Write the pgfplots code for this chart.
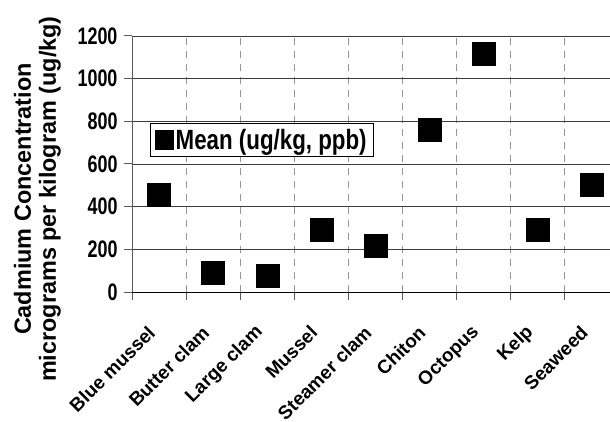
\documentclass[border=0pt]{standalone}
\usepackage{fontspec}
\setmainfont{Liberation Sans}
\usepackage{graphicx}
\usepackage{pgfplots}
\pgfplotsset{compat=1.18}
\definecolor{gridh}{RGB}{60,60,60}
\definecolor{gridv}{RGB}{150,150,150}
\definecolor{axgray}{RGB}{90,90,90}
\begin{document}
\begin{tikzpicture}
\useasboundingbox (0,0) rectangle (610bp,422bp);
\begin{axis}[
  at={(132bp,130bp)}, anchor=south west,
  scale only axis, width=478bp, height=256bp,
  xmin=-0.5, xmax=8.335, ymin=0, ymax=1200,
  axis x line=bottom, axis y line=left,
  x axis line style={-, black, line width=1bp},
  y axis line style={-, axgray, line width=1bp},
  xtick={-0.5,0.5,...,8.5}, xticklabels={},
  ytick={0,200,...,1200},
  minor ytick={200,400,...,1200},
  minor tick length=0pt,
  yminorgrids, xmajorgrids, ymajorgrids=false,
  minor grid style={solid, gridh, line width=0.9bp},
  major grid style={dashed, gridv, line width=0.9bp, dash pattern=on 7bp off 6bp},
  tick align=outside, major tick length=8bp,
  tick style={axgray, line width=1bp},
  extra x ticks={0,1,...,8},
  extra x tick labels={Blue mussel, Butter clam, Large clam, Mussel, Steamer clam, Chiton, Octopus, Kelp, Seaweed},
  extra x tick style={major tick length=0pt, grid=none},
  xticklabel style={font=\bfseries\fontsize{19}{22}\selectfont, xshift=-5bp, rotate=45, anchor=east},
  xticklabel shift=35bp,
  /pgf/number format/assume math mode=true,
  /pgf/number format/1000 sep={},
  yticklabel={\scalebox{0.75}[1]{\pgfmathprintnumber{\tick}}},
  yticklabel style={font=\bfseries\fontsize{24}{26}\selectfont, xshift=-3bp},
  ylabel={Cadmium Concentration\\micrograms per kilogram (ug/kg)},
  ylabel style={at={(axis description cs:-0.198,0.363)}, anchor=center, align=center, font=\bfseries\fontsize{23.5}{25}\selectfont},
  legend style={at={(rel axis cs:0.0377,0.66)}, anchor=north west, draw=black, line width=0.8bp, fill=white,
    font=\bfseries\fontsize{28}{30}\selectfont, inner xsep=5bp, inner ysep=4bp, nodes={inner sep=1.5bp}},
  legend image code/.code={\fill[black] (0bp,-9.5bp) rectangle (18bp,9.5bp);},
]
\addplot[only marks, mark=square*, mark size=11.5bp, black] coordinates {
  (0,457) (1,91) (2,78) (3,293) (4,218) (5,762) (6,1117) (7,293) (8,504)
};
\addlegendentry{\scalebox{0.80}[1]{Mean (ug/kg, ppb)}}
\end{axis}
\end{tikzpicture}
\end{document}
